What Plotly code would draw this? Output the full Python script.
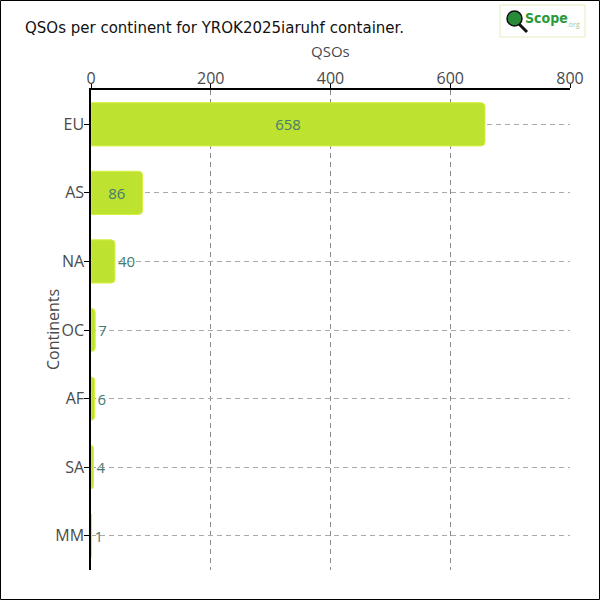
import plotly.graph_objects as go

continents = ["EU", "AS", "NA", "OC", "AF", "SA", "MM"]
qsos = [658, 86, 40, 7, 6, 4, 1]
label_pos = ["inside", "inside", "outside", "outside", "outside", "outside", "outside"]
x_ticks = [0, 200, 400, 600, 800]

L, R, T, B = 91, 30, 90, 30
W = H = 600
pw, ph = W - L - R, H - T - B

def px(x):
    return (x - L) / pw

def py(y):
    return (H - B - y) / ph

fig = go.Figure(go.Bar(
    x=qsos, y=continents, orientation="h",
    marker=dict(color="#bde22f", line=dict(color="#d6f03c", width=1), cornerradius=4),
    text=[str(v) for v in qsos], textposition=label_pos,
    insidetextanchor="middle",
    textfont=dict(family="Open Sans", size=15, color="#467a72"),
    cliponaxis=False, width=0.63,
))

tick_font = dict(family="Open Sans", size=16, color="#4a4a4a")

fig.update_layout(
    width=W, height=H,
    margin=dict(l=L, r=R, t=T, b=B),
    paper_bgcolor="white", plot_bgcolor="white",
    showlegend=False,
    title=dict(text="QSOs per continent for YROK2025iaruhf container.",
               x=25 / W, xanchor="left", y=1 - 28 / H, yanchor="middle",
               font=dict(family="DejaVu Sans", size=15, color="#111")),
    xaxis=dict(side="top", range=[0, 800], tickvals=x_ticks,
               showline=True, linecolor="black", linewidth=1.5,
               ticks="outside", ticklen=5, tickcolor="black",
               showgrid=True, gridcolor="#8a8a8a", griddash="5px,4px", gridwidth=1,
               zeroline=False, ticklabelstandoff=-7,
               tickfont=tick_font),
    yaxis=dict(categoryorder="array", categoryarray=continents, autorange="reversed",
               showline=True, linecolor="black", linewidth=1.5,
               ticks="outside", ticklen=5, tickcolor="black",
               showgrid=True, gridcolor="#aaaaaa", griddash="5px,4px", gridwidth=1,
               ticklabelstandoff=-3,
               tickfont=tick_font),
)

shapes = [
    dict(type="rect", xref="paper", yref="paper",
         x0=px(0.5), x1=px(599.5), y0=py(599.5), y1=py(0.5),
         line=dict(color="black", width=1), fillcolor="rgba(0,0,0,0)", layer="above"),
    dict(type="rect", xref="paper", yref="paper",
         x0=px(500), x1=px(585), y0=py(37), y1=py(5),
         line=dict(color="#e3edc0", width=1), fillcolor="white"),
    dict(type="line", xref="paper", yref="paper",
         x0=px(519), x1=px(527), y0=py(24), y1=py(32),
         line=dict(color="#111", width=3)),
    dict(type="circle", xref="paper", yref="paper",
         x0=px(507), x1=px(522), y0=py(26), y1=py(11),
         line=dict(color="#111", width=1.5), fillcolor="#2a8a3a"),
]
fig.update_layout(shapes=shapes)

# axis titles
fig.add_annotation(xref="paper", yref="paper", x=0.5, y=py(62), yanchor="bottom",
                   xanchor="center", showarrow=False, borderpad=0,
                   text="QSOs", font=dict(family="Open Sans", size=15, color="#4a4a4a"))
fig.add_annotation(xref="paper", yref="paper", x=px(53), y=0.5,
                   xanchor="center", yanchor="middle", showarrow=False,
                   text="Continents", textangle=-90, font=tick_font)

# logo
fig.add_annotation(xref="paper", yref="paper", x=px(523), y=py(18),
                   xanchor="left", yanchor="middle", showarrow=False,
                   text="<b>Scope</b>",
                   font=dict(family="DejaVu Sans Condensed, Liberation Sans Narrow, Roboto", size=14, color="#2a9a3a"))
fig.add_annotation(xref="paper", yref="paper", x=px(565), y=py(25),
                   xanchor="left", yanchor="middle", showarrow=False,
                   text=".org",
                   font=dict(family="Open Sans", size=7, color="#9acb9a"))

fig.write_html("out.html", config={"displayModeBar": False},
               post_script="document.body.style.margin='0';document.body.style.overflow='hidden';")
